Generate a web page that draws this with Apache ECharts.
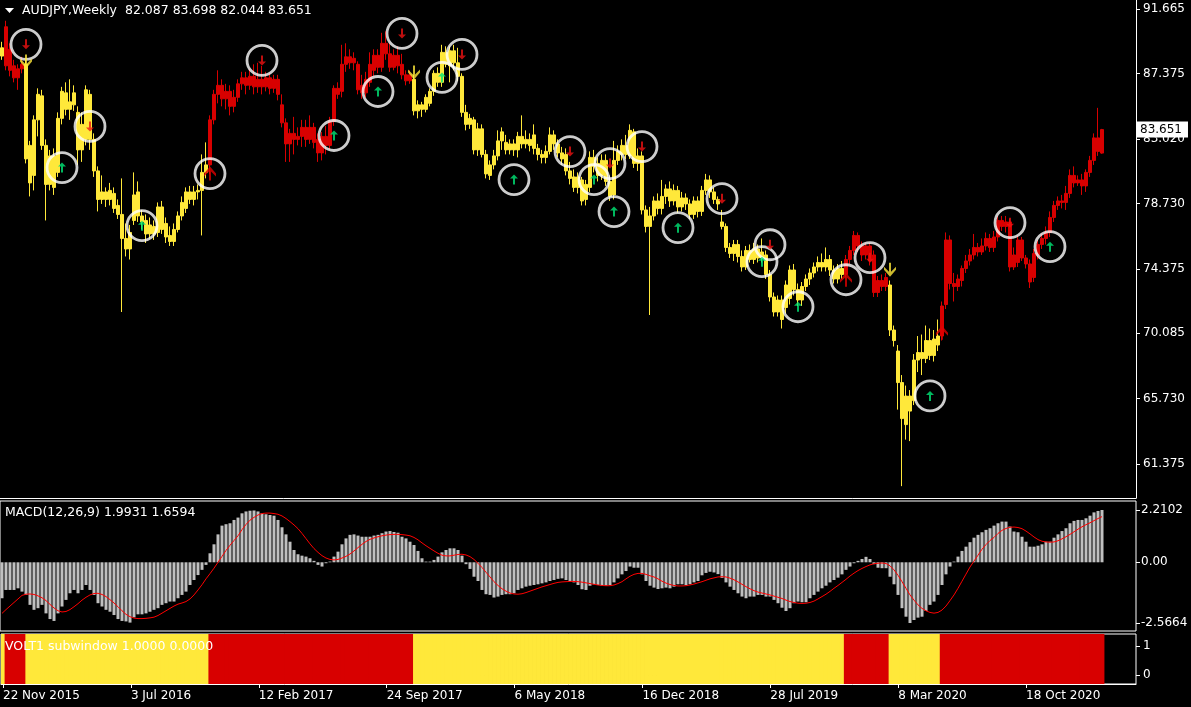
<!DOCTYPE html>
<html><head><meta charset="utf-8">
<script src="https://cdn.jsdelivr.net/npm/echarts@6/dist/echarts.min.js"></script>
<style>html,body{margin:0;padding:0;background:#000;}#c{width:1191px;height:707px;}</style>
</head><body><div id="c"></div>
<script>
const symbolName = 'AUDJPY,Weekly';
const startDateUTC = [2015, 10, 22];
const TOTAL_SLOTS = 284;
const xTickLabels = ['22 Nov 2015','3 Jul 2016','12 Feb 2017','24 Sep 2017','6 May 2018','16 Dec 2018','28 Jul 2019','8 Mar 2020','18 Oct 2020'];
const priceTicks = [91.665, 87.375, 83.020, 78.730, 74.375, 70.085, 65.730, 61.375];
const macdTicks = [2.2102, 0, -2.5664];
const voltTicks = [0, 1];
const macdHeader = [1.9931, 1.6594];
const voltHeader = [1.0000, 0.0000];

// [open, close, low, high]
const candles = [
[89.10,88.55,88.30,89.50],[87.90,90.50,87.60,90.90],[89.00,87.60,87.20,89.40],[87.90,87.10,86.80,88.30],[87.10,87.70,86.30,88.00],
[87.70,88.00,87.40,88.50],[88.00,81.70,81.40,88.30],[82.60,80.10,79.20,82.90],[80.60,84.30,79.60,84.60],[84.30,86.00,83.20,86.40],
[85.90,82.60,82.30,86.30],[82.60,80.00,77.60,83.00],[80.00,81.90,79.60,82.30],[81.90,79.80,79.30,82.40],[80.80,84.40,80.50,84.80],
[84.40,86.20,84.00,86.50],[86.10,85.00,84.60,86.80],[85.00,85.50,84.30,87.00],[85.30,86.10,84.90,86.60],[84.80,82.30,81.30,85.20],
[82.30,84.00,81.50,84.80],[83.00,86.30,82.60,86.60],[86.00,83.00,82.30,86.30],[83.00,80.90,80.50,83.40],[80.90,79.00,78.20,81.20],
[79.00,79.50,78.70,80.60],[79.50,79.00,78.50,79.80],[79.00,79.60,78.60,80.10],[79.40,78.40,78.10,79.80],[78.60,78.00,77.70,79.00],
[78.00,76.40,71.50,80.40],[76.40,75.70,75.20,77.40],[75.70,76.80,75.00,77.30],[77.60,79.30,77.30,80.80],[79.50,77.90,77.50,80.20],
[77.90,77.50,77.00,78.30],[77.60,76.70,76.10,78.00],[76.70,77.30,76.40,77.80],[77.20,76.70,76.30,77.60],[76.80,78.50,76.50,78.80],
[78.50,77.00,76.70,78.90],[77.40,76.50,76.10,77.80],[76.60,76.20,75.90,77.20],[76.20,77.00,75.90,77.40],[77.00,77.90,76.80,78.20],
[77.90,78.80,77.60,79.20],[78.40,79.50,78.10,79.80],[79.50,79.00,78.70,79.90],[79.00,79.50,78.60,79.90],[79.50,79.60,79.00,80.00],
[79.60,80.80,76.60,82.00],[80.80,81.30,80.40,82.80],[81.30,84.30,80.70,84.60],[84.30,86.00,84.00,86.30],[86.00,86.60,85.40,87.60],
[86.60,85.70,85.20,87.00],[85.70,86.20,85.00,86.70],[86.20,85.20,84.60,86.60],[85.20,85.80,84.80,86.30],[85.80,86.70,85.50,87.00],
[86.70,87.10,86.30,87.50],[87.10,86.60,86.00,87.50],[86.60,87.20,86.30,87.70],[87.20,86.50,86.00,88.00],[86.50,87.00,86.10,88.10],
[87.00,86.50,86.00,87.90],[86.50,87.10,86.20,87.50],[87.10,86.40,86.00,87.40],[86.40,87.00,86.10,87.30],[87.00,86.00,85.60,87.30],
[85.30,84.10,83.80,86.00],[84.10,82.70,81.50,84.40],[82.70,83.40,81.50,83.70],[83.40,83.00,82.00,84.50],[83.00,83.20,82.60,83.80],
[83.20,83.80,82.50,84.30],[83.80,83.00,82.50,84.30],[83.00,83.80,82.70,84.60],[83.80,82.80,82.40,84.10],[83.00,82.10,81.50,83.40],
[82.10,83.20,81.60,83.50],[83.20,82.60,82.00,83.90],[82.60,84.20,82.30,84.50],[84.20,86.40,83.90,86.60],[86.40,86.00,85.70,86.80],
[86.20,88.00,85.80,89.30],[88.00,88.50,87.50,89.40],[88.50,88.10,87.70,89.00],[88.10,88.40,87.60,88.80],[88.00,86.30,86.00,88.20],
[86.60,86.10,85.70,87.30],[86.10,87.00,85.80,87.50],[86.80,88.00,86.50,88.80],[87.60,88.60,87.20,89.00],[88.60,87.80,87.40,89.00],
[87.80,89.40,87.50,90.10],[89.40,88.70,88.30,90.20],[88.70,87.80,87.50,89.40],[87.80,88.60,87.60,89.00],[88.60,87.90,87.40,89.20],
[88.00,87.30,87.00,88.70],[87.30,86.90,86.60,87.60],[86.90,87.30,86.70,87.60],[87.00,84.90,84.60,87.30],[84.90,85.30,84.40,85.60],
[85.30,85.00,84.50,85.50],[85.00,85.80,84.80,86.00],[85.40,86.20,85.20,86.40],[86.20,87.40,85.90,87.60],[87.40,86.80,86.50,87.80],
[86.80,88.80,86.50,89.30],[88.80,88.00,87.80,89.20],[87.90,88.90,86.80,89.20],[88.90,88.10,87.60,89.30],[88.10,87.20,86.90,89.10],
[87.20,84.80,84.50,87.40],[84.80,84.00,83.60,85.30],[84.00,84.40,83.70,84.70],[84.30,82.30,82.00,84.50],[82.30,83.70,81.90,84.10],
[83.70,82.00,81.80,84.00],[82.00,80.70,80.40,82.30],[80.60,81.30,80.30,81.60],[81.30,81.90,81.00,82.30],[81.90,82.90,81.60,83.60],
[82.90,83.50,82.30,83.80],[82.80,82.30,82.00,83.30],[82.30,82.70,82.00,83.00],[82.70,82.30,81.90,83.00],[82.30,83.20,81.80,83.50],
[83.20,82.70,82.40,84.60],[82.70,83.00,82.40,83.60],[83.00,82.60,82.20,83.40],[83.30,82.40,82.00,84.00],[82.40,82.00,81.60,82.70],
[82.00,81.80,81.40,82.30],[81.80,82.20,81.40,82.60],[82.20,83.30,82.00,83.80],[83.30,82.70,82.30,83.60],[82.70,82.10,81.80,83.00],
[82.10,81.70,81.30,82.50],[82.00,80.90,80.60,82.40],[80.90,80.40,80.00,81.50],[80.50,79.80,79.50,81.00],[79.80,80.50,79.40,80.80],
[80.30,78.90,78.60,80.50],[79.00,80.00,78.60,80.30],[79.80,81.80,79.50,82.20],[81.80,81.20,80.80,82.30],[81.40,80.60,80.20,81.80],
[80.60,81.60,80.30,82.00],[81.60,80.20,79.90,82.00],[80.20,79.20,78.90,80.60],[79.30,81.60,79.00,82.90],[81.60,82.20,81.30,82.60],
[82.00,82.60,81.60,83.00],[82.60,82.00,81.70,83.30],[81.90,83.60,81.70,84.00],[83.50,81.40,81.10,83.70],[81.40,81.90,80.90,82.40],
[81.90,78.30,78.00,82.20],[78.30,77.20,76.80,78.60],[77.20,77.90,71.30,78.50],[77.90,78.90,77.60,79.20],[78.90,78.40,78.00,79.40],
[78.40,79.20,78.00,80.30],[79.20,79.70,78.70,80.00],[79.70,78.90,78.50,80.20],[78.90,79.60,78.60,80.00],[79.60,78.50,78.10,79.90],
[78.50,79.10,78.20,79.50],[79.10,78.70,78.30,79.40],[78.70,78.00,77.70,79.00],[78.00,78.90,77.70,79.20],[78.90,78.20,77.80,79.20],
[78.20,79.60,77.90,79.90],[79.60,80.30,79.30,80.70],[80.30,79.50,79.10,80.60],[79.50,79.00,78.70,79.80],[79.00,78.70,78.30,79.20],
[77.50,77.20,77.00,78.30],[77.20,75.80,75.50,77.40],[75.80,75.40,75.10,76.10],[75.40,76.00,74.90,76.30],[76.00,75.20,74.80,76.30],
[75.20,74.50,74.20,75.60],[74.50,75.60,74.30,75.90],[75.60,75.00,74.80,76.00],[75.00,75.70,74.70,76.10],[75.70,75.10,74.80,76.00],
[75.10,75.50,74.80,76.40],[75.30,74.00,73.70,75.60],[74.00,72.50,72.20,74.30],[72.50,71.50,71.20,72.80],[71.50,72.30,71.20,72.60],
[72.30,71.00,70.40,72.60],[71.80,73.30,71.40,73.60],[72.40,74.30,72.00,74.60],[74.30,73.00,72.60,74.70],[73.00,72.30,71.90,73.40],
[72.30,73.20,71.90,73.50],[73.20,73.70,72.90,74.00],[73.70,74.10,73.30,74.40],[74.10,74.50,73.80,74.80],[74.50,74.80,74.20,75.20],
[74.80,74.50,74.20,75.40],[74.50,75.00,74.20,75.80],[75.00,74.30,73.90,75.30],[74.30,73.70,73.40,74.60],[73.70,74.40,73.40,74.70],
[74.40,74.00,73.70,74.90],[74.00,75.00,73.80,75.30],[75.00,75.60,74.70,75.90],[75.60,76.60,75.30,76.90],[76.60,75.90,75.50,76.80],
[75.90,75.30,74.90,76.20],[75.30,75.90,75.00,76.10],[75.90,74.90,74.60,76.10],[75.30,72.80,72.50,75.60],[72.80,73.60,72.50,73.90],
[73.60,73.20,72.90,74.00],[73.20,73.80,72.90,74.10],[73.30,70.30,69.90,73.60],[70.30,69.60,69.20,70.60],[68.90,66.80,65.00,69.30],
[66.80,64.40,59.90,67.30],[64.00,65.90,63.00,66.60],[65.90,64.90,62.90,66.30],[65.60,68.30,65.30,68.70],[68.30,68.80,67.50,69.90],
[68.80,68.40,67.30,70.00],[68.40,69.60,68.10,70.60],[69.60,68.60,68.30,70.40],[68.60,69.70,68.20,70.30],[69.30,69.90,68.90,71.00],
[69.90,71.90,69.60,72.20],[72.00,76.30,71.70,76.80],[76.30,73.40,73.00,76.60],[73.40,73.20,72.20,74.10],[73.20,73.70,72.90,74.00],
[73.60,74.40,73.20,74.60],[74.40,74.90,74.10,75.30],[74.90,75.30,74.60,75.70],[75.30,75.80,75.00,76.70],[75.80,75.50,75.20,76.10],
[75.50,75.90,75.30,76.40],[75.90,76.40,75.60,76.80],[76.40,75.80,75.50,76.70],[75.80,76.50,75.50,76.90],[76.50,77.60,76.20,77.90],
[77.60,77.20,76.90,77.90],[77.20,77.50,76.80,77.90],[77.50,74.50,74.20,77.70],[74.50,75.30,74.30,75.80],[74.80,76.30,74.50,76.60],
[76.30,75.10,74.90,76.50],[75.10,74.70,74.40,75.30],[74.70,73.50,73.10,75.00],[73.80,75.40,73.50,75.70],[75.30,76.00,75.00,76.30],
[76.00,76.40,75.70,76.70],[76.40,76.80,76.00,77.20],[76.80,77.80,76.50,78.20],[77.80,78.60,77.50,78.90],[78.60,78.90,78.30,79.20],
[78.90,78.80,78.40,79.30],[78.80,79.40,78.30,79.90],[79.40,80.60,79.10,81.00],[80.60,80.10,79.80,81.20],[80.10,80.30,79.90,80.60],
[80.30,79.90,79.30,80.70],[79.90,80.80,79.50,81.00],[80.80,81.60,80.50,81.90],[81.60,83.10,81.30,83.40],[83.10,82.20,81.90,85.10],
[82.087,83.651,82.044,83.698]
];

const macdMain = [
-1.52,-1.17,-1.17,-1.17,-1.10,-1.24,-1.38,-1.80,-2.01,-1.94,
-1.80,-2.16,-2.40,-2.48,-2.16,-1.87,-1.59,-1.31,-1.17,-1.31,
-1.17,-0.96,-1.17,-1.38,-1.73,-1.87,-2.01,-2.09,-2.23,-2.40,
-2.48,-2.50,-2.55,-2.33,-2.20,-2.20,-2.16,-2.09,-2.01,-1.94,
-1.80,-1.73,-1.66,-1.66,-1.52,-1.38,-1.24,-0.96,-0.75,-0.54,
-0.32,-0.11,0.38,0.76,1.18,1.55,1.61,1.65,1.79,1.89,
2.07,2.15,2.18,2.19,2.15,2.07,2.03,2.00,1.97,1.79,
1.48,1.18,0.87,0.52,0.34,0.28,0.24,0.17,0.06,-0.11,
-0.18,-0.04,0.03,0.24,0.45,0.76,1.01,1.16,1.18,1.13,
1.08,1.08,1.08,1.13,1.16,1.23,1.30,1.32,1.28,1.25,
1.08,1.01,0.87,0.73,0.48,0.17,0.03,0.03,0.10,0.24,
0.42,0.52,0.59,0.59,0.52,0.28,-0.08,-0.28,-0.61,-0.79,
-1.17,-1.35,-1.38,-1.49,-1.45,-1.38,-1.35,-1.35,-1.31,-1.17,
-1.10,-1.03,-0.99,-0.96,-0.93,-0.89,-0.85,-0.79,-0.75,-0.70,
-0.68,-0.75,-0.79,-0.85,-0.96,-1.14,-1.17,-0.99,-0.93,-0.96,
-0.99,-0.99,-0.96,-0.85,-0.68,-0.51,-0.37,-0.18,-0.23,-0.23,
-0.51,-0.79,-0.99,-1.07,-1.13,-1.10,-1.07,-1.10,-1.03,-0.93,
-0.93,-0.96,-0.93,-0.85,-0.79,-0.55,-0.45,-0.40,-0.43,-0.50,
-0.66,-0.85,-1.03,-1.17,-1.31,-1.45,-1.52,-1.45,-1.45,-1.38,
-1.38,-1.45,-1.45,-1.59,-1.73,-1.92,-2.06,-1.94,-1.73,-1.66,
-1.69,-1.69,-1.52,-1.38,-1.24,-1.10,-0.99,-0.85,-0.75,-0.65,
-0.51,-0.32,-0.18,-0.04,0.06,0.14,0.23,0.14,-0.08,-0.23,
-0.25,-0.25,-0.61,-0.93,-1.38,-1.94,-2.30,-2.5664,-2.44,-2.34,
-2.30,-2.06,-1.80,-1.66,-1.38,-0.96,-0.51,-0.18,0.03,0.24,
0.48,0.66,0.85,1.04,1.16,1.27,1.37,1.44,1.55,1.65,
1.72,1.72,1.51,1.30,1.27,1.08,0.87,0.66,0.66,0.70,
0.76,0.87,0.87,1.04,1.18,1.32,1.44,1.65,1.75,1.79,
1.79,1.86,1.97,2.11,2.17,2.2102
];

const macdSignal = [
-2.16,-2.00,-1.85,-1.70,-1.55,-1.40,-1.35,-1.34,-1.36,-1.42,
-1.50,-1.62,-1.78,-1.93,-2.05,-2.10,-2.08,-2.00,-1.88,-1.75,
-1.60,-1.48,-1.38,-1.32,-1.31,-1.36,-1.45,-1.58,-1.72,-1.88,
-2.05,-2.20,-2.30,-2.36,-2.38,-2.38,-2.37,-2.35,-2.32,-2.25,
-2.15,-2.05,-1.95,-1.85,-1.77,-1.72,-1.66,-1.55,-1.38,-1.17,
-0.95,-0.70,-0.48,-0.25,0.00,0.25,0.50,0.72,0.92,1.12,
1.38,1.60,1.78,1.90,2.00,2.06,2.08,2.08,2.06,2.03,
1.96,1.85,1.72,1.58,1.42,1.22,1.00,0.78,0.58,0.42,
0.28,0.18,0.12,0.10,0.12,0.18,0.25,0.35,0.48,0.62,
0.76,0.88,0.97,1.03,1.08,1.12,1.15,1.17,1.18,1.18,
1.17,1.15,1.12,1.05,0.95,0.82,0.70,0.59,0.48,0.38,
0.30,0.27,0.27,0.30,0.33,0.34,0.31,0.24,0.12,-0.04,
-0.22,-0.42,-0.62,-0.82,-0.98,-1.12,-1.22,-1.30,-1.34,-1.35,
-1.33,-1.28,-1.22,-1.16,-1.10,-1.04,-0.99,-0.94,-0.89,-0.85,
-0.83,-0.82,-0.81,-0.81,-0.82,-0.84,-0.87,-0.90,-0.93,-0.96,
-0.98,-0.99,-0.99,-0.96,-0.90,-0.82,-0.70,-0.59,-0.51,-0.47,
-0.47,-0.51,-0.57,-0.62,-0.70,-0.80,-0.88,-0.94,-0.98,-1.00,
-1.00,-0.99,-0.96,-0.92,-0.87,-0.82,-0.76,-0.70,-0.66,-0.62,
-0.61,-0.62,-0.67,-0.74,-0.83,-0.93,-1.03,-1.12,-1.20,-1.26,
-1.30,-1.34,-1.38,-1.43,-1.48,-1.53,-1.60,-1.66,-1.70,-1.73,
-1.74,-1.73,-1.70,-1.64,-1.55,-1.45,-1.35,-1.23,-1.10,-0.98,
-0.85,-0.72,-0.58,-0.46,-0.35,-0.26,-0.18,-0.11,-0.06,-0.04,
-0.03,-0.05,-0.15,-0.32,-0.55,-0.82,-1.10,-1.38,-1.60,-1.80,
-1.95,-2.05,-2.12,-2.15,-2.12,-2.02,-1.85,-1.62,-1.38,-1.10,
-0.80,-0.50,-0.20,0.05,0.30,0.55,0.75,0.92,1.05,1.22,
1.35,1.43,1.48,1.49,1.47,1.42,1.32,1.20,1.07,0.96,
0.89,0.86,0.85,0.86,0.91,0.99,1.08,1.18,1.29,1.40,
1.50,1.59,1.67,1.76,1.85,1.93
];

// VOLT regime runs: [firstBar, lastBar, state]  (R = red, Y = yellow)
const voltRuns = [[0,0,'Y'],[1,5,'R'],[6,51,'Y'],[52,102,'R'],[103,210,'Y'],[211,221,'R'],[222,234,'Y'],[235,275,'R']];

// signal markers: [barIndex, price]
const sigDownRed = [[6,89.33],[22,83.86],[65,88.26],[100,90.06],[115,88.66],[142,82.19],[152,81.39],[160,82.52],[180,79.05],[192,75.98],[217,75.12],[252,77.45]];
const sigUpGreen = [[15,81.12],[35,77.25],[83,83.26],[94,86.19],[110,87.13],[128,80.32],[148,80.32],[153,78.19],[169,77.12],[190,74.85],[199,71.85],[232,65.91],[262,75.85]];
const sigUpRedCircled = [[52,80.72],[211,73.65]];
const sigUpRedPlain = [[235,70.12]];
const sigDownYellow = [[6,88.19],[103,87.46],[222,74.32]];

const RED = '#d80000', YELLOW = '#ffe83a';
const FONT = 'DejaVu Sans';
const MONTHS = ['Jan','Feb','Mar','Apr','May','Jun','Jul','Aug','Sep','Oct','Nov','Dec'];
const t0 = Date.UTC(startDateUTC[0], startDateUTC[1], startDateUTC[2]);
const cats = [];
for (let i = 0; i < TOTAL_SLOTS; i++) {
  const d = new Date(t0 + i * 7 * 86400000);
  cats.push(d.getUTCDate() + ' ' + MONTHS[d.getUTCMonth()] + ' ' + d.getUTCFullYear());
}
const state = [];
voltRuns.forEach(r => { for (let i = r[0]; i <= r[1]; i++) state[i] = r[2]; });

const candleData = candles.map((c, i) => {
  const col = state[i] === 'R' ? RED : YELLOW;
  return { value: c, itemStyle: { color: col, color0: col, borderColor: col, borderColor0: col } };
});
const VOLT_MIN = -0.31, VOLT_MAX = 1.414;
const vYT = [], vYB = [], vRT = [], vRB = [];
state.forEach((s, i) => {
  vYT.push(s === 'Y' ? VOLT_MAX : '-'); vYB.push(s === 'Y' ? VOLT_MIN : '-');
  vRT.push(s === 'R' ? VOLT_MAX : '-'); vRB.push(s === 'R' ? VOLT_MIN : '-');
});
const last = candles[candles.length - 1];
const headerText = symbolName + '  ' + [last[0], last[3], last[2], last[1]].map(v => v.toFixed(3)).join(' ');

const txt = { color: '#fff', fontFamily: FONT, fontSize: 12.5, fontWeight: 'normal' };
const axLbl = { color: '#fff', fontFamily: FONT, fontSize: 12 };
const tickInterval = (idx, val) => xTickLabels.indexOf(val) >= 0;
const gridCommon = { left: -1, width: 1137 };

const PATH_DOWN_SMALL = 'path://M3,0 L5,0 L5,6 L8,6 L4,10 L0,6 L3,6 Z';
const PATH_UP_SMALL = 'path://M4,0 L8,4 L5,4 L5,10 L3,10 L3,4 L0,4 Z';
const PATH_UP_BIG = 'path://M6,0 L12,7 L12,10 L7,5 L7,14 L5,14 L5,5 L0,10 L0,7 Z';
const PATH_DOWN_BIG = 'path://M5,0 L7,0 L7,9 L12,4 L12,7 L6,14 L0,7 L0,4 L5,9 Z';

const chart = echarts.init(document.getElementById('c'), null, { renderer: 'canvas' });
chart.setOption({
  backgroundColor: '#000',
  animation: false,
  title: [
    { text: headerText, left: 22, top: 4, padding: 0, textStyle: txt },
    { text: 'MACD(12,26,9) ' + macdHeader.map(v => v.toFixed(4)).join(' '), left: 5, top: 506, padding: 0, textStyle: txt },
    { text: 'VOLT1 subwindow ' + voltHeader.map(v => v.toFixed(4)).join(' '), left: 5, top: 640, padding: 0, textStyle: txt }
  ],
  graphic: [{ type: 'polygon', shape: { points: [[5, 8], [14, 8], [9.5, 13]] }, style: { fill: '#fff' } }],
  grid: [
    Object.assign({ top: 0, height: 498 }, gridCommon),
    Object.assign({ top: 501, height: 130, show: true, borderColor: '#fff', borderWidth: 1 }, gridCommon),
    Object.assign({ top: 634, height: 50, show: true, borderColor: '#fff', borderWidth: 1 }, gridCommon)
  ],
  xAxis: [
    { gridIndex: 0, type: 'category', data: cats, boundaryGap: true,
      axisLine: { show: true, onZero: false, lineStyle: { color: '#fff' } }, axisTick: { show: false }, axisLabel: { show: false }, splitLine: { show: false } },
    { gridIndex: 1, type: 'category', data: cats, boundaryGap: true,
      axisLine: { show: false, onZero: false }, axisTick: { show: false }, axisLabel: { show: false }, splitLine: { show: false } },
    { gridIndex: 2, type: 'category', data: cats, boundaryGap: true,
      axisLine: { show: true, onZero: false, lineStyle: { color: '#fff' } },
      axisTick: { show: true, interval: tickInterval, alignWithLabel: true, length: 4, lineStyle: { color: '#fff' } },
      axisLabel: Object.assign({ interval: tickInterval, align: 'left', margin: 6 }, axLbl),
      splitLine: { show: false } }
  ],
  yAxis: [
    { gridIndex: 0, type: 'value', position: 'right', min: 59.11, max: 92.285, scale: true,
      axisLine: { show: true, lineStyle: { color: '#fff' } },
      axisTick: { show: true, customValues: priceTicks, length: 4, lineStyle: { color: '#fff' } },
      axisLabel: Object.assign({ customValues: priceTicks, formatter: v => Number(v).toFixed(3), margin: 7 }, axLbl),
      splitLine: { show: false },
      axisPointer: { show: true, type: 'line', value: last[1], status: 'show', snap: false, triggerTooltip: false,
        lineStyle: { color: 'rgba(0,0,0,0)', width: 0 },
        label: { show: true, formatter: p => Number(p.value).toFixed(3), backgroundColor: '#fff', color: '#000',
          fontFamily: FONT, fontSize: 12, padding: [2, 6, 2, 3], margin: 1, borderRadius: 0 } } },
    { gridIndex: 1, type: 'value', position: 'right', min: -2.905, max: 2.591,
      axisLine: { show: false },
      axisTick: { show: true, customValues: macdTicks, length: 4, lineStyle: { color: '#fff' } },
      axisLabel: Object.assign({ customValues: macdTicks, formatter: v => (v === 0 ? '0.00' : Number(v).toFixed(4)), margin: 5 }, axLbl),
      splitLine: { show: false } },
    { gridIndex: 2, type: 'value', position: 'right', min: VOLT_MIN, max: VOLT_MAX,
      axisLine: { show: false },
      axisTick: { show: true, customValues: voltTicks, length: 4, lineStyle: { color: '#fff' } },
      axisLabel: Object.assign({ customValues: voltTicks, formatter: v => String(v), margin: 7 }, axLbl),
      splitLine: { show: false } }
  ],
  series: [
    { type: 'candlestick', xAxisIndex: 0, yAxisIndex: 0, data: candleData, barWidth: 3,
      itemStyle: { borderWidth: 1 }, silent: true },
    { type: 'scatter', xAxisIndex: 0, yAxisIndex: 0, data: sigDownRed.concat(sigUpGreen, sigUpRedCircled),
      symbol: 'circle', symbolSize: 30, itemStyle: { color: 'rgba(0,0,0,0)', borderColor: '#fff', borderWidth: 2.8 }, z: 5, silent: true },
    { type: 'scatter', xAxisIndex: 0, yAxisIndex: 0, data: sigDownRed, symbol: PATH_DOWN_SMALL, symbolSize: [8, 10],
      itemStyle: { color: '#ee1111' }, z: 6, silent: true },
    { type: 'scatter', xAxisIndex: 0, yAxisIndex: 0, data: sigUpGreen, symbol: PATH_UP_SMALL, symbolSize: [8, 10],
      itemStyle: { color: '#00e676' }, z: 6, silent: true },
    { type: 'scatter', xAxisIndex: 0, yAxisIndex: 0, data: sigUpRedCircled.concat(sigUpRedPlain), symbol: PATH_UP_BIG, symbolSize: [12, 14],
      itemStyle: { color: '#e00000' }, z: 6, silent: true },
    { type: 'scatter', xAxisIndex: 0, yAxisIndex: 0, data: sigDownYellow, symbol: PATH_DOWN_BIG, symbolSize: [12, 14],
      itemStyle: { color: YELLOW }, z: 6, silent: true },
    { type: 'bar', xAxisIndex: 1, yAxisIndex: 1, data: macdMain, barWidth: 3, itemStyle: { color: '#c0c0c0' }, silent: true },
    { type: 'line', xAxisIndex: 1, yAxisIndex: 1, data: macdSignal, symbol: 'none', lineStyle: { color: '#ff0000', width: 1 }, silent: true },
    { type: 'bar', xAxisIndex: 2, yAxisIndex: 2, data: vYT, stack: 'v', barWidth: 4.8, itemStyle: { color: YELLOW }, silent: true },
    { type: 'bar', xAxisIndex: 2, yAxisIndex: 2, data: vYB, stack: 'v', barWidth: 4.8, itemStyle: { color: YELLOW }, silent: true },
    { type: 'bar', xAxisIndex: 2, yAxisIndex: 2, data: vRT, stack: 'v', barWidth: 4.8, itemStyle: { color: RED }, silent: true },
    { type: 'bar', xAxisIndex: 2, yAxisIndex: 2, data: vRB, stack: 'v', barWidth: 4.8, itemStyle: { color: RED }, silent: true }
  ]
});
</script>
</body></html>
